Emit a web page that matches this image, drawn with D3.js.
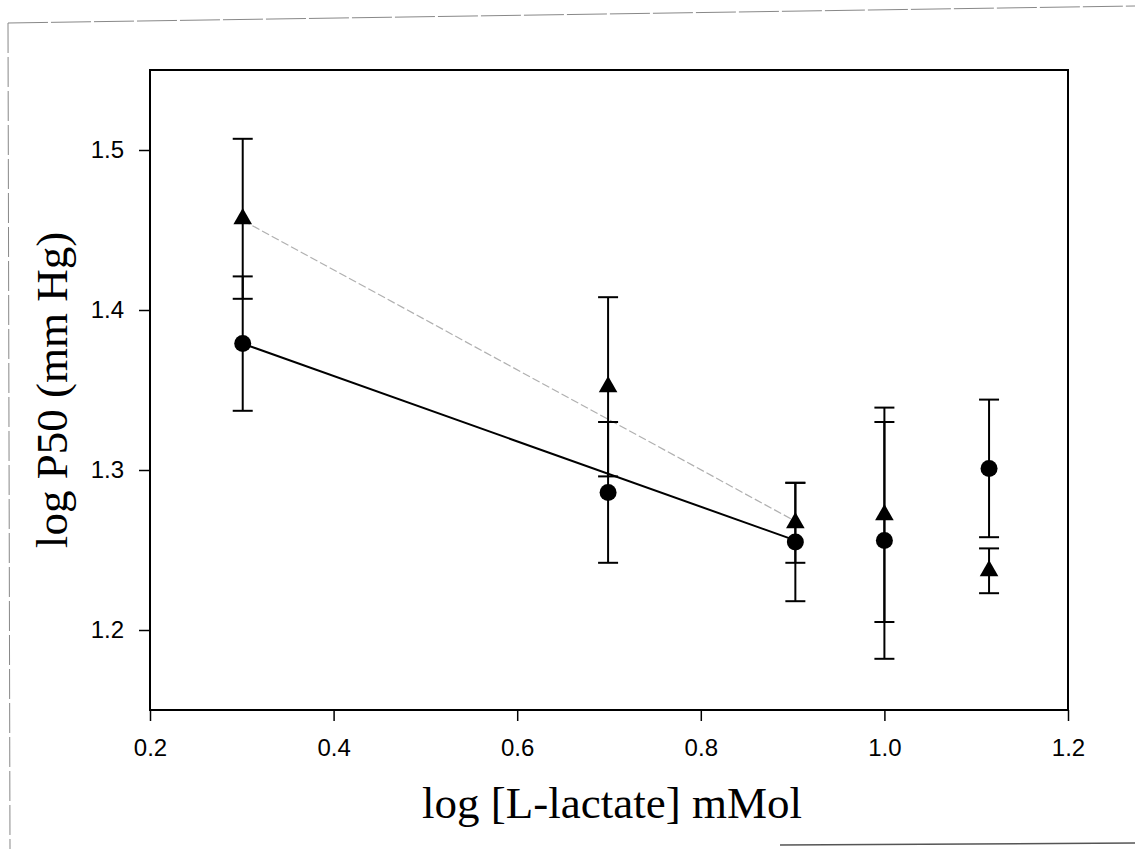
<!DOCTYPE html>
<html>
<head>
<meta charset="utf-8">
<script src="https://cdn.jsdelivr.net/npm/d3@7"></script>
<style>
  body { margin: 0; background: #fff; }
</style>
</head>
<body>
<div id="chart"></div>
<script>
// x positions: log of lactate concentration (2, 5, 8, 10, 13 mM)
var xValues = [0.301, 0.699, 0.903, 1.0, 1.114];

// circle series (mean and SE)
var circleMean = [1.379, 1.286, 1.255, 1.256, 1.301];
var circleErr  = [0.042, 0.044, 0.037, 0.074, 0.043];

// triangle series (mean and SE)
var triMean = [1.457, 1.352, 1.267, 1.272, 1.237];
var triErr  = [0.050, 0.056, 0.025, 0.067, 0.014];

// regression lines over the first three points
var circleFitX = [0.301, 0.903];
var circleFitY = [1.379, 1.256];
var triFitX = [0.301, 0.903];
var triFitY = [1.456, 1.268];

var xTicks = [0.2, 0.4, 0.6, 0.8, 1.0, 1.2];
var yTicks = [1.2, 1.3, 1.4, 1.5];

var W = 1135, H = 849;
var margin = {top: 70, right: 67, bottom: 139, left: 150};
var width = W - margin.left - margin.right,
    height = H - margin.top - margin.bottom;

var svg = d3.select("#chart").append("svg")
    .attr("width", W)
    .attr("height", H);

// scanned page border
svg.append("line")
    .attr("x1", 8).attr("y1", 23).attr("x2", 1135).attr("y2", 6)
    .attr("stroke", "#888").attr("stroke-width", 1).attr("stroke-dasharray", "40,3");
svg.append("line")
    .attr("x1", 8).attr("y1", 23).attr("x2", 10).attr("y2", 849)
    .attr("stroke", "#888").attr("stroke-width", 1).attr("stroke-dasharray", "30,4");
svg.append("line")
    .attr("x1", 780).attr("y1", 845).attr("x2", 1135).attr("y2", 843)
    .attr("stroke", "#555").attr("stroke-width", 1.5);

var g = svg.append("g")
    .attr("transform", "translate(" + margin.left + "," + margin.top + ")");

var x = d3.scaleLinear().domain([0.2, 1.2]).range([0, width]);
var y = d3.scaleLinear().domain([1.15, 1.55]).range([height, 0]);

// frame
g.append("rect")
    .attr("width", width).attr("height", height)
    .attr("fill", "none").attr("stroke", "#000").attr("stroke-width", 2);

// axes
var xAxis = g.append("g")
    .attr("transform", "translate(0," + height + ")")
    .call(d3.axisBottom(x).tickValues(xTicks).tickFormat(d3.format(".1f")).tickSize(11).tickPadding(18));
var yAxis = g.append("g")
    .call(d3.axisLeft(y).tickValues(yTicks).tickFormat(d3.format(".1f")).tickSize(11).tickPadding(15));

[xAxis, yAxis].forEach(function (a) {
    a.attr("font-size", 24).attr("font-family", "'Liberation Sans', Arial, sans-serif");
    a.select(".domain").remove();
    a.selectAll("line").attr("stroke", "#000").attr("stroke-width", 1.5);
    a.selectAll("text").attr("fill", "#000");
});

// axis titles
svg.append("text")
    .attr("x", 612).attr("y", 818)
    .attr("text-anchor", "middle")
    .style("font-family", "'Liberation Serif', 'Times New Roman', serif")
    .style("font-size", "45px")
    .text("log [L-lactate] mMol");

svg.append("text")
    .attr("transform", "translate(67,390) rotate(-90)")
    .attr("text-anchor", "middle")
    .style("font-family", "'Liberation Serif', 'Times New Roman', serif")
    .style("font-size", "45px")
    .text("log P50 (mm Hg)");

// regression lines
var line = d3.line()
    .x(function (d) { return x(d[0]); })
    .y(function (d) { return y(d[1]); });

g.append("path")
    .datum(d3.zip(triFitX, triFitY))
    .attr("d", line)
    .attr("fill", "none")
    .attr("stroke", "#b0b0b0")
    .attr("stroke-width", 1.2)
    .attr("stroke-dasharray", "8,3");

g.append("path")
    .datum(d3.zip(circleFitX, circleFitY))
    .attr("d", line)
    .attr("fill", "none")
    .attr("stroke", "#000")
    .attr("stroke-width", 2);

// error bars
function errorBars(means, errs) {
    var data = xValues.map(function (xv, i) { return {x: xv, m: means[i], e: errs[i]}; });
    var eg = g.append("g").attr("stroke", "#000").attr("stroke-width", 2);
    eg.selectAll(".bar").data(data).enter().append("line")
        .attr("x1", function (d) { return x(d.x); })
        .attr("x2", function (d) { return x(d.x); })
        .attr("y1", function (d) { return y(d.m - d.e); })
        .attr("y2", function (d) { return y(d.m + d.e); });
    eg.selectAll(".capTop").data(data).enter().append("line")
        .attr("x1", function (d) { return x(d.x) - 10; })
        .attr("x2", function (d) { return x(d.x) + 10; })
        .attr("y1", function (d) { return y(d.m + d.e); })
        .attr("y2", function (d) { return y(d.m + d.e); });
    eg.selectAll(".capBot").data(data).enter().append("line")
        .attr("x1", function (d) { return x(d.x) - 10; })
        .attr("x2", function (d) { return x(d.x) + 10; })
        .attr("y1", function (d) { return y(d.m - d.e); })
        .attr("y2", function (d) { return y(d.m - d.e); });
}
errorBars(triMean, triErr);
errorBars(circleMean, circleErr);

// markers
g.selectAll(".tri")
    .data(xValues)
    .enter().append("path")
    .attr("d", d3.symbol().type(d3.symbolTriangle).size(150))
    .attr("transform", function (d, i) { return "translate(" + x(d) + "," + y(triMean[i]) + ")"; })
    .attr("fill", "#000");

g.selectAll(".dot")
    .data(xValues)
    .enter().append("circle")
    .attr("cx", function (d) { return x(d); })
    .attr("cy", function (d, i) { return y(circleMean[i]); })
    .attr("r", 8.5)
    .attr("fill", "#000");
</script>
</body>
</html>
